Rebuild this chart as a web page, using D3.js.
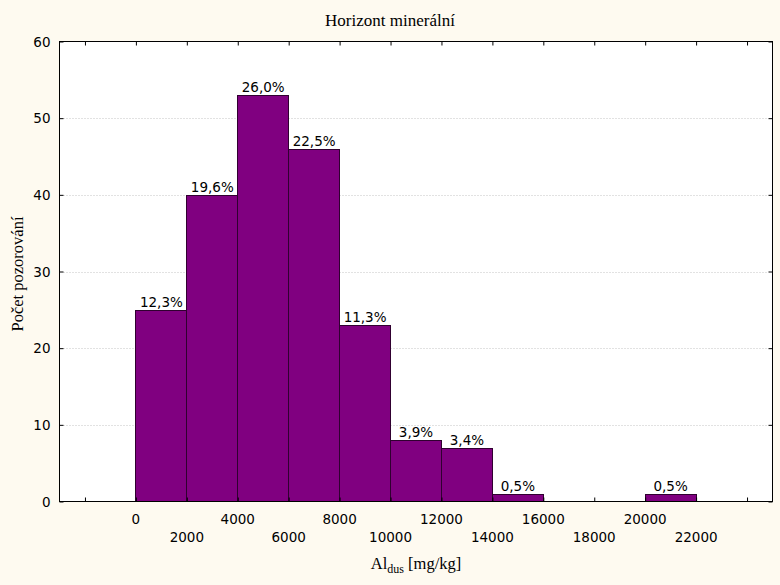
<!DOCTYPE html>
<html>
<head>
<meta charset="utf-8">
<script src="https://cdn.jsdelivr.net/npm/d3@7"></script>
<style>
  body { margin: 0; background: #fefaf0; }
  svg { display: block; }
</style>
</head>
<body>
<div id="chart"></div>
<script>
// histogram bins (lower edge, mg/kg) and counts
var binStarts = [0, 2000, 4000, 6000, 8000, 10000, 12000, 14000, 16000, 18000, 20000]
var counts = [25, 40, 53, 46, 23, 8, 7, 1, 0, 0, 1]
var percentLabels = ["12,3%", "19,6%", "26,0%", "22,5%", "11,3%", "3,9%", "3,4%", "0,5%", "", "", "0,5%"]
var binWidth = 2000
var xTicks = [-2000, 0, 2000, 4000, 6000, 8000, 10000, 12000, 14000, 16000, 18000, 20000, 22000, 24000]
var xLabels = [0, 2000, 4000, 6000, 8000, 10000, 12000, 14000, 16000, 18000, 20000, 22000]
var yTicks = [0, 10, 20, 30, 40, 50, 60]

var width = 780, height = 585
var plotLeft = 59.5, plotRight = 772.5, plotTop = 41.5, plotBottom = 501.5

var svg = d3.select("#chart")
    .append("svg")
    .attr("width", width)
    .attr("height", height)

svg.append("rect")
    .attr("width", width)
    .attr("height", height)
    .attr("fill", "#fefaf0")

var x = d3.scaleLinear()
    .domain([-3000, 25000])
    .range([plotLeft, plotRight])

var y = d3.scaleLinear()
    .domain([0, 60])
    .range([plotBottom, plotTop])

function px(v) { return Math.floor(x(v)) + 0.5; }

// plot area
svg.append("rect")
    .attr("x", plotLeft)
    .attr("y", plotTop)
    .attr("width", plotRight - plotLeft)
    .attr("height", plotBottom - plotTop)
    .attr("fill", "white")

// dotted grid
svg.append("g")
    .selectAll("line")
    .data(yTicks.slice(1, -1))
    .enter()
    .append("line")
    .attr("x1", plotLeft + 4)
    .attr("x2", plotRight - 4)
    .attr("y1", function (d) { return Math.round(y(d)) + 0.5; })
    .attr("y2", function (d) { return Math.round(y(d)) + 0.5; })
    .attr("stroke", "#c4c4c4")
    .attr("stroke-dasharray", "1,2")

// bars
var bins = binStarts.map(function (s, i) { return {x0: s, x1: s + binWidth, n: counts[i], pct: percentLabels[i]}; })

svg.append("g")
    .selectAll("rect")
    .data(bins.filter(function (d) { return d.n > 0; }))
    .enter()
    .append("rect")
    .attr("x", function (d) { return px(d.x0); })
    .attr("width", function (d) { return px(d.x1) - px(d.x0); })
    .attr("y", function (d) { return Math.round(y(d.n)) + 0.5; })
    .attr("height", function (d) { return plotBottom - Math.round(y(d.n)) - 0.5; })
    .attr("fill", "#800080")
    .attr("stroke", "#300030")
    .attr("stroke-width", 1)

// percent labels
svg.append("g")
    .selectAll("text")
    .data(bins.filter(function (d) { return d.pct !== ""; }))
    .enter()
    .append("text")
    .attr("x", function (d) { return x(d.x0 + binWidth / 2); })
    .attr("y", function (d) { return y(d.n) - 3; })
    .attr("text-anchor", "middle")
    .style("font-family", "DejaVu Sans, Verdana, sans-serif")
    .style("font-size", "13.5px")
    .text(function (d) { return d.pct; })

// axes (ticks pointing inwards)
var xTickPos = function (g) { g.selectAll(".tick").attr("transform", null); }
svg.append("g")
    .attr("transform", "translate(0," + plotBottom + ")")
    .call(d3.axisBottom(x).tickValues(xTicks).tickSize(-4).tickSizeOuter(0).tickFormat(""))
svg.append("g")
    .attr("transform", "translate(0," + plotTop + ")")
    .call(d3.axisTop(x).tickValues(xTicks).tickSize(-4).tickSizeOuter(0).tickFormat(""))
svg.append("g")
    .attr("transform", "translate(" + plotLeft + ",0)")
    .call(d3.axisLeft(y).tickValues(yTicks).tickSize(-4).tickSizeOuter(0).tickFormat(""))
svg.append("g")
    .attr("transform", "translate(" + plotRight + ",0)")
    .call(d3.axisRight(y).tickValues(yTicks).tickSize(-4).tickSizeOuter(0).tickFormat(""))

svg.selectAll(".domain").remove()
svg.selectAll(".tick line").attr("stroke", "black")

svg.append("rect")
    .attr("x", plotLeft)
    .attr("y", plotTop)
    .attr("width", plotRight - plotLeft)
    .attr("height", plotBottom - plotTop)
    .attr("fill", "none")
    .attr("stroke", "black")

// tick labels
var tickFont = "DejaVu Sans, Verdana, sans-serif"

svg.append("g")
    .selectAll("text")
    .data(yTicks)
    .enter()
    .append("text")
    .attr("x", plotLeft - 9)
    .attr("y", function (d) { return y(d) + 5; })
    .attr("text-anchor", "end")
    .style("font-family", tickFont)
    .style("font-size", "13.5px")
    .text(function (d) { return d; })

svg.append("g")
    .selectAll("text")
    .data(xLabels)
    .enter()
    .append("text")
    .attr("x", function (d) { return x(d); })
    .attr("y", function (d, i) { return i % 2 == 0 ? 524 : 542; })
    .attr("text-anchor", "middle")
    .style("font-family", tickFont)
    .style("font-size", "13.5px")
    .text(function (d) { return d; })

// titles
var serif = "Liberation Serif, Times New Roman, serif"

svg.append("text")
    .attr("x", 390)
    .attr("y", 26)
    .attr("text-anchor", "middle")
    .style("font-family", serif)
    .style("font-size", "17px")
    .text("Horizont minerální")

svg.append("text")
    .attr("transform", "translate(23,274) rotate(-90)")
    .attr("text-anchor", "middle")
    .style("font-family", serif)
    .style("font-size", "16.5px")
    .text("Počet pozorování")

var xt = svg.append("text")
    .attr("x", (plotLeft + plotRight) / 2)
    .attr("y", 569)
    .attr("text-anchor", "middle")
    .style("font-family", serif)
    .style("font-size", "16.5px")
xt.append("tspan").text("Al")
xt.append("tspan").attr("dy", 4).style("font-size", "12px").text("dus")
xt.append("tspan").attr("dy", -4).text(" [mg/kg]")
</script>
</body>
</html>
